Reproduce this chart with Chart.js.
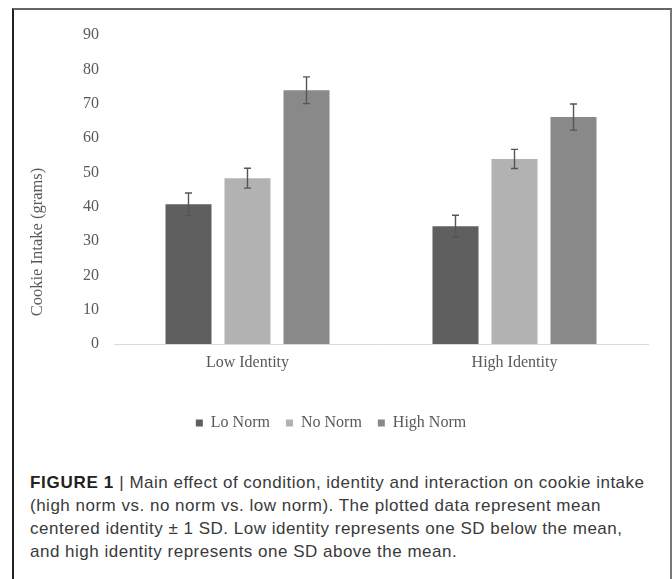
<!DOCTYPE html>
<html>
<head>
<meta charset="utf-8">
<script src="https://cdn.jsdelivr.net/npm/chart.js@4.4.1/dist/chart.umd.min.js"></script>
<style>
  html, body { margin: 0; padding: 0; background: #fff; }
  body { width: 672px; height: 579px; position: relative; overflow: hidden; }
  #frame {
    position: absolute; left: 12px; top: 8px; width: 656px; height: 620px;
    border-top: 2px solid #666; border-left: 2px solid #222; border-right: 2px solid #777;
  }
  #chart { position: absolute; left: 0; top: 0; }
  #caption {
    position: absolute; left: 30px; top: 470.5px;
    font-family: "Liberation Sans", Arial, sans-serif; font-size: 17px; line-height: 23px;
    letter-spacing: 0.5px; color: #3a3a3a; white-space: nowrap;
  }
  #caption b { color: #222; letter-spacing: 0.7px; }
</style>
</head>
<body>
<div id="frame"></div>
<canvas id="chart" width="672" height="470"></canvas>
<div id="caption">
  <b>FIGURE 1</b> | Main effect of condition, identity and interaction on cookie intake<br>
  (high norm vs. no norm vs. low norm). The plotted data represent mean<br>
  centered identity ± 1 SD. Low identity represents one SD below the mean,<br>
  and high identity represents one SD above the mean.
</div>
<script>
  const categories = ["Low Identity", "High Identity"];
  const seriesNames = ["Lo Norm", "No Norm", "High Norm"];
  const loNorm = [40.7, 34.3];
  const noNorm = [48.3, 53.9];
  const highNorm = [73.9, 66.1];
  const loNormSd = [3.3, 3.2];
  const noNormSd = [2.9, 2.8];
  const highNormSd = [3.9, 3.8];
  const yTicks = [0, 10, 20, 30, 40, 50, 60, 70, 80, 90];

  const serif = "'Liberation Serif', 'Times New Roman', serif";
  const grey = "#595959";

  // whiskers drawn from each dataset's sd array, through the y scale
  const errorBars = {
    id: "errorBars",
    afterDatasetsDraw(chart) {
      const ctx = chart.ctx;
      const y = chart.scales.y;
      ctx.save();
      ctx.strokeStyle = "#555";
      ctx.lineWidth = 1.4;
      chart.data.datasets.forEach((ds, di) => {
        chart.getDatasetMeta(di).data.forEach((bar, i) => {
          const top = y.getPixelForValue(ds.data[i] + ds.sd[i]);
          const bottom = y.getPixelForValue(ds.data[i] - ds.sd[i]);
          ctx.beginPath();
          ctx.moveTo(bar.x, top);
          ctx.lineTo(bar.x, bottom);
          ctx.moveTo(bar.x - 3.5, top);
          ctx.lineTo(bar.x + 3.5, top);
          ctx.moveTo(bar.x - 3.5, bottom);
          ctx.lineTo(bar.x + 3.5, bottom);
          ctx.stroke();
        });
      });
      ctx.restore();
    },
  };

  const yTitle = {
    id: "yTitle",
    afterDraw(chart) {
      const ctx = chart.ctx;
      ctx.save();
      ctx.translate(38, 242);
      ctx.rotate(-Math.PI / 2);
      ctx.font = `16.5px ${serif}`;
      ctx.fillStyle = grey;
      ctx.textAlign = "center";
      ctx.textBaseline = "middle";
      ctx.fillText("Cookie Intake (grams)", 0, 0);
      ctx.restore();
    },
  };

  new Chart(document.querySelector("#chart"), {
    type: "bar",
    data: {
      labels: categories,
      datasets: [
        { label: seriesNames[0], data: loNorm, sd: loNormSd, backgroundColor: "#5f5f5f" },
        { label: seriesNames[1], data: noNorm, sd: noNormSd, backgroundColor: "#b2b2b2" },
        { label: seriesNames[2], data: highNorm, sd: highNormSd, backgroundColor: "#898989" },
      ],
    },
    options: {
      responsive: false,
      animation: false,
      devicePixelRatio: 1,
      categoryPercentage: 0.663,
      barPercentage: 0.78,
      layout: { padding: { left: 14, right: 24, top: 35, bottom: 29 } },
      plugins: {
        tooltip: { enabled: false },
        legend: {
          position: "bottom",
          labels: {
            boxWidth: 7,
            boxHeight: 7,
            padding: 16,
            color: grey,
            font: { family: serif, size: 16 },
          },
        },
      },
      scales: {
        x: {
          grid: { display: false, drawTicks: false },
          border: { color: "#d9d9d9", width: 1 },
          ticks: { color: grey, padding: 9, font: { family: serif, size: 16 } },
          afterFit: (s) => { s.height = 55; },
        },
        y: {
          min: 0,
          max: 90,
          afterBuildTicks: (s) => { s.ticks = yTicks.map((v) => ({ value: v })); },
          grid: { display: false, drawTicks: false },
          border: { display: false },
          ticks: { color: grey, padding: 15, font: { family: serif, size: 16 } },
          afterFit: (s) => { s.width = 100; },
        },
      },
    },
    plugins: [errorBars, yTitle],
  });
</script>
</body>
</html>
